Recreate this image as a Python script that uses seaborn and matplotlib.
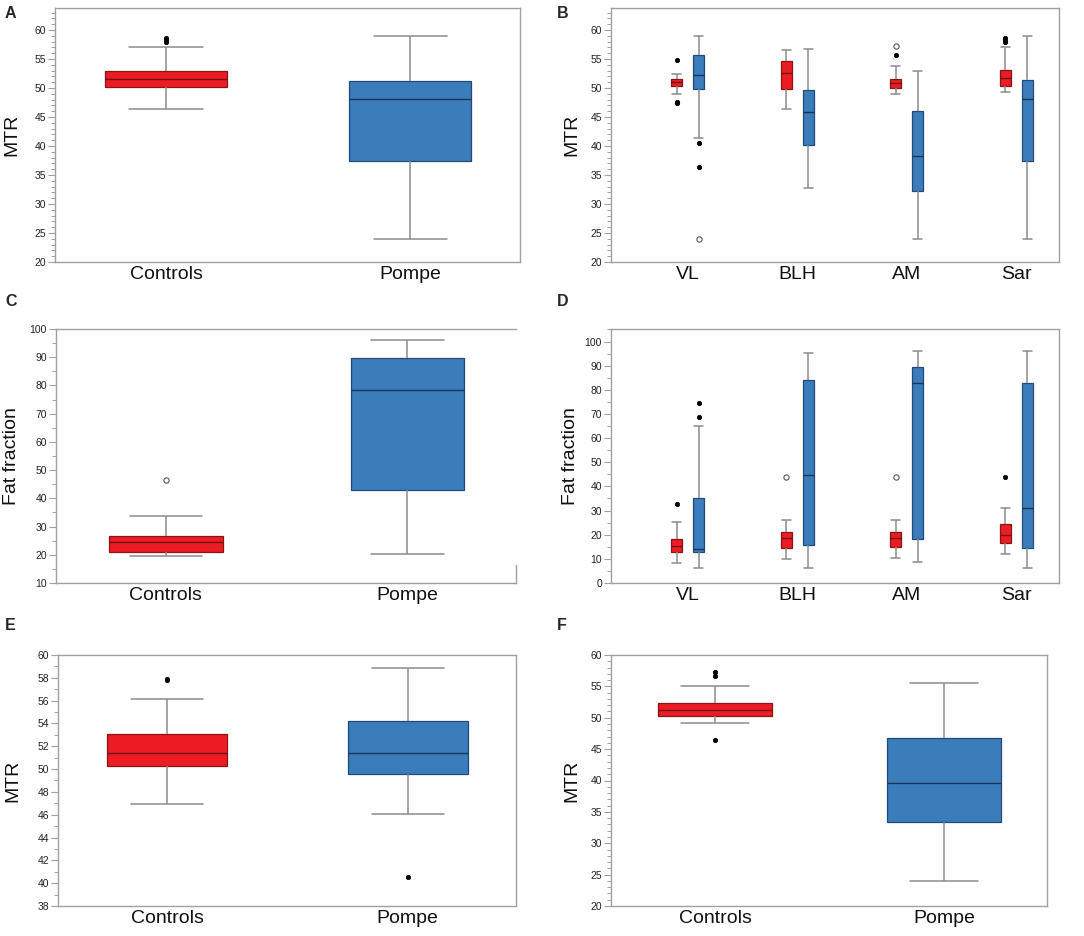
import matplotlib
matplotlib.use("Agg")
from matplotlib import pyplot as plt
from matplotlib.ticker import MultipleLocator
import seaborn as sns
import pandas as pd

# ---- data ----------------------------------------------------------------
groups = ["Controls", "Pompe"]
muscles = ["VL", "BLH", "AM", "Sar"]

# A: MTR, whole thigh
a_low = [46.3, 24.0]
a_q1 = [50.1, 37.5]
a_med = [51.5, 48.1]
a_q3 = [53.0, 51.2]
a_high = [57.1, 58.9]
a_filled = {"Controls": [58.7, 58.3, 57.9]}
a_open = {}

# B: MTR per muscle
b_ctrl_low = [49.05, 46.4, 49.0, 49.3]
b_ctrl_q1 = [50.3, 49.8, 50.0, 50.4]
b_ctrl_med = [51.0, 52.6, 50.8, 51.8]
b_ctrl_q3 = [51.5, 54.6, 51.6, 53.1]
b_ctrl_high = [52.5, 56.6, 53.8, 57.0]
b_pom_low = [41.4, 32.8, 24.0, 24.0]
b_pom_q1 = [49.9, 40.2, 32.2, 37.5]
b_pom_med = [52.3, 45.9, 38.2, 48.1]
b_pom_q3 = [55.7, 49.7, 46.0, 51.3]
b_pom_high = [58.9, 56.8, 52.9, 58.9]
b_filled = {("VL", "Controls"): [54.8, 47.6, 47.4],
            ("AM", "Controls"): [55.7],
            ("Sar", "Controls"): [58.7, 58.3, 57.9],
            ("VL", "Pompe"): [40.5, 36.4]}
b_open = {("AM", "Controls"): [57.2],
          ("VL", "Pompe"): [24.0]}

# C: fat fraction, whole thigh
c_low = [19.7, 20.3]
c_q1 = [21.0, 42.8]
c_med = [24.6, 78.5]
c_q3 = [26.6, 89.6]
c_high = [33.9, 96.0]
c_filled = {}
c_open = {"Controls": [46.5]}

# D: fat fraction per muscle
d_ctrl_low = [8.3, 9.9, 10.3, 11.9]
d_ctrl_q1 = [12.7, 14.6, 14.9, 16.6]
d_ctrl_med = [15.2, 18.5, 18.5, 20.0]
d_ctrl_q3 = [18.3, 21.0, 21.0, 24.6]
d_ctrl_high = [25.1, 26.2, 26.2, 30.9]
d_pom_low = [6.3, 6.3, 8.8, 6.3]
d_pom_q1 = [13.0, 15.6, 18.3, 14.3]
d_pom_med = [14.1, 44.6, 82.9, 30.9]
d_pom_q3 = [35.0, 84.1, 89.4, 82.9]
d_pom_high = [65.0, 95.3, 96.1, 96.1]
d_filled = {("VL", "Controls"): [32.8],
            ("Sar", "Controls"): [44.1],
            ("VL", "Pompe"): [74.5, 68.6]}
d_open = {("BLH", "Controls"): [44.1],
          ("AM", "Controls"): [44.1]}

# E: MTR
e_low = [46.9, 46.1]
e_q1 = [50.3, 49.6]
e_med = [51.45, 51.45]
e_q3 = [53.1, 54.2]
e_high = [56.1, 58.9]
e_filled = {"Controls": [57.9, 57.8], "Pompe": [40.5]}
e_open = {}

# F: MTR
f_low = [49.1, 24.0]
f_q1 = [50.2, 33.4]
f_med = [51.3, 39.6]
f_q3 = [52.35, 46.7]
f_high = [55.0, 55.5]
f_filled = {"Controls": [57.3, 56.7, 46.5]}
f_open = {}

# ---- style ---------------------------------------------------------------
RED = "#ec1c24"
BLUE = "#3a7dba"
EDGE = {"Controls": "#8a1414", "Pompe": "#1f4a7a"}
MED = {"Controls": "#701010", "Pompe": "#1a3556"}
WHISK = "#8c8c8c"
SPINE = "#a0a0a0"
palette = {"Controls": RED, "Pompe": BLUE}

sns.set_theme(style="ticks")
plt.rcParams["font.family"] = ["Liberation Sans", "DejaVu Sans"]

fig = plt.figure(figsize=(10.84, 9.36), dpi=100)
W, H = 1084, 936


def add_ax(left, right, top, bottom):
    return fig.add_axes([left / W, 1 - bottom / H, (right - left) / W, (bottom - top) / H])


def box_frame(cats, hues, low, q1, med, q3, high):
    rows = []
    for c, h, a, b, m, d, e in zip(cats, hues, low, q1, med, q3, high):
        for v in (a, b, m, d, e):
            rows.append({"cat": c, "group": h, "value": v})
    return pd.DataFrame(rows)


def style_boxes(ax, capw):
    for cont, g in zip(ax.containers, groups):
        for b in cont.boxes:
            b.set_edgecolor(EDGE[g])
            b.set_linewidth(0.9)
        for m in cont.medians:
            m.set_color(MED[g])
            m.set_linewidth(1.0)
        for cap in cont.caps:
            x = cap.get_xdata()
            mid = (x[0] + x[1]) / 2
            cap.set_xdata([mid - capw / 2, mid + capw / 2])


def draw_fliers(ax, xpos, filled, opened):
    for key, vals in filled.items():
        ax.plot([xpos[key]] * len(vals), vals, "o", ms=3.2, mfc="black",
                mec="black", mew=0.5, zorder=5, linestyle="none")
    for key, vals in opened.items():
        ax.plot([xpos[key]] * len(vals), vals, "o", ms=3.8, mfc="white",
                mec="#555555", mew=0.8, zorder=5, linestyle="none")


def finish(ax, ylim, major, minor, ylabel, label_x, letter, lx, ly):
    ax.set_ylim(*ylim)
    ax.yaxis.set_major_locator(MultipleLocator(major))
    ax.yaxis.set_minor_locator(MultipleLocator(minor))
    ax.tick_params(axis="y", which="major", length=5, width=0.8, color=SPINE,
                   labelsize=7.5, labelcolor="#222222", pad=1.5)
    ax.tick_params(axis="y", which="minor", length=3, width=0.7, color=SPINE)
    ax.tick_params(axis="x", length=0, labelsize=14, pad=3, labelcolor="#111111")
    for s in ax.spines.values():
        s.set_color(SPINE)
        s.set_linewidth(1.0)
    ax.set_xlabel("")
    ax.set_ylabel(ylabel, fontsize=14, color="#111111")
    ax.yaxis.set_label_coords(label_x, 0.5)
    fig.text(lx / W, 1 - ly / H, letter, fontsize=11.5, fontweight="bold",
             ha="left", va="center")


def simple_panel(ax, low, q1, med, q3, high, filled, opened, width=0.5):
    df = box_frame(groups, groups, low, q1, med, q3, high)
    sns.boxplot(data=df, x="cat", y="value", hue="group", palette=palette,
                order=groups, hue_order=groups, width=width, whis=(0, 100),
                saturation=1, linecolor=WHISK, linewidth=1.1, legend=False, ax=ax)
    style_boxes(ax, 0.3)
    xpos = {g: i for i, g in enumerate(groups)}
    draw_fliers(ax, xpos, filled, opened)
    ax.set_xlim(-0.455, 1.45)


def muscle_panel(ax, ctrl, pom, filled, opened):
    cats = muscles + muscles
    hues = ["Controls"] * 4 + ["Pompe"] * 4
    stats = [c + p for c, p in zip(ctrl, pom)]
    df = box_frame(cats, hues, *stats)
    sns.boxplot(data=df, x="cat", y="value", hue="group", palette=palette,
                order=muscles, hue_order=groups, width=0.4, gap=0.5, dodge=True,
                whis=(0, 100), saturation=1, linecolor=WHISK, linewidth=1.1,
                legend=False, ax=ax)
    style_boxes(ax, 0.08)
    offset = {"Controls": -0.1, "Pompe": 0.1}
    xpos = {(m, g): i + offset[g] for i, m in enumerate(muscles) for g in groups}
    draw_fliers(ax, xpos, filled, opened)
    ax.set_xlim(-0.70, 3.39)


# A
axA = add_ax(55, 520, 8, 262)
simple_panel(axA, a_low, a_q1, a_med, a_q3, a_high, a_filled, a_open)
finish(axA, (20, 63.8), 5, 1, "MTR", -0.075, "A", 5, 14)

# B
axB = add_ax(611, 1059, 8, 262)
muscle_panel(axB, [b_ctrl_low, b_ctrl_q1, b_ctrl_med, b_ctrl_q3, b_ctrl_high],
             [b_pom_low, b_pom_q1, b_pom_med, b_pom_q3, b_pom_high], b_filled, b_open)
finish(axB, (20, 63.8), 5, 1, "MTR", -0.068, "B", 557, 14)

# C
axC = add_ax(56, 516, 329, 583)
simple_panel(axC, c_low, c_q1, c_med, c_q3, c_high, c_filled, c_open, width=0.47)
finish(axC, (10, 100), 10, 5, "Fat fraction", -0.078, "C", 5, 302)
axC.spines["right"].set_bounds(10, 16.5)

# D
axD = add_ax(611, 1059, 329, 583)
muscle_panel(axD, [d_ctrl_low, d_ctrl_q1, d_ctrl_med, d_ctrl_q3, d_ctrl_high],
             [d_pom_low, d_pom_q1, d_pom_med, d_pom_q3, d_pom_high], d_filled, d_open)
finish(axD, (0, 105.2), 10, 5, "Fat fraction", -0.072, "D", 557, 302)

# E
axE = add_ax(58, 516, 655, 906)
simple_panel(axE, e_low, e_q1, e_med, e_q3, e_high, e_filled, e_open)
finish(axE, (38, 60), 2, 1, "MTR", -0.08, "E", 5, 625)

# F
axF = add_ax(611, 1047, 655, 906)
simple_panel(axF, f_low, f_q1, f_med, f_q3, f_high, f_filled, f_open)
finish(axF, (20, 60), 5, 1, "MTR", -0.07, "F", 557, 625)

fig.savefig("out.png", dpi=100)
